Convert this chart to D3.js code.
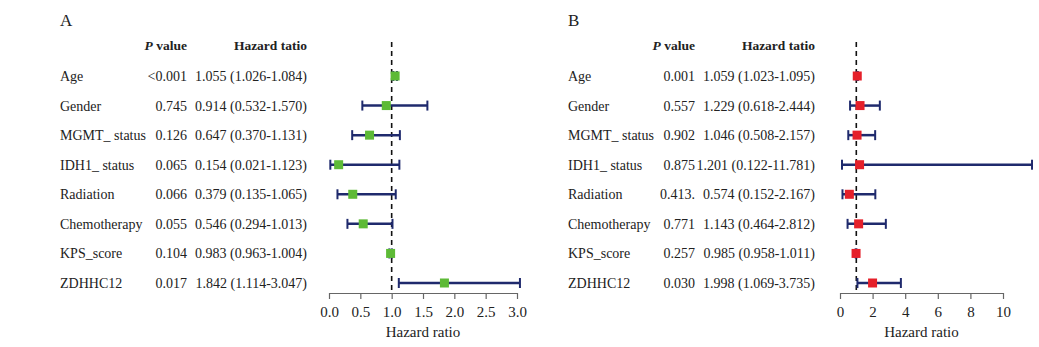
<!DOCTYPE html>
<html>
<head>
<meta charset="utf-8">
<script src="https://cdn.jsdelivr.net/npm/d3@7"></script>
<style>
body{margin:0;background:#fff;}
text{font-family:"Liberation Serif","Times New Roman",serif;fill:#222;}
</style>
</head>
<body>
<div id="grafico"></div>
<script>
// variables (mismas en los dos paneles)
var variables=["Age","Gender","MGMT_ status","IDH1_ status","Radiation","Chemotherapy","KPS_score","ZDHHC12"]

// panel A
var pA=["<0.001","0.745","0.126","0.065","0.066","0.055","0.104","0.017"]
var hrA=[1.055,0.914,0.647,0.154,0.379,0.546,0.983,1.842]
var loA=[1.026,0.532,0.370,0.021,0.135,0.294,0.963,1.114]
var hiA=[1.084,1.570,1.131,1.123,1.065,1.013,1.004,3.047]
var ticksA=[0,0.5,1,1.5,2,2.5,3]

// panel B
var pB=["0.001","0.557","0.902","0.875","0.413.","0.771","0.257","0.030"]
var hrB=[1.059,1.229,1.046,1.201,0.574,1.143,0.985,1.998]
var loB=[1.023,0.618,0.508,0.122,0.152,0.464,0.958,1.069]
var hiB=[1.095,2.444,2.157,11.781,2.167,2.812,1.011,3.735]
var ticksB=[0,2,4,6,8,10]

var svg=d3.select("#grafico").append("svg")
	.attr("width",1039).attr("height",347)

var y=d3.scaleLinear().domain([0,7]).range([76,283])

function panel(cfg){
	var g=svg.append("g")
	g.append("text").attr("x",cfg.x0).attr("y",26).text(cfg.letra)
		.style("font-size","17px")

	// cabeceras
	var head=g.append("text").attr("x",cfg.xP).attr("y",50).attr("text-anchor","end")
		.style("font-size","13.5px").style("font-weight","bold")
	head.append("tspan").style("font-style","italic").text("P")
	head.append("tspan").text(" value")
	g.append("text").attr("x",cfg.xHR).attr("y",50).attr("text-anchor","end")
		.style("font-size","13.5px").style("font-weight","bold").text("Hazard tatio")

	var rows=variables.map(function(v,i){
		return {v:v,p:cfg.p[i],hr:cfg.hr[i],lo:cfg.lo[i],hi:cfg.hi[i],i:i}
	})

	g.selectAll("t.lab").data(rows).enter().append("text")
		.attr("x",cfg.x0).attr("y",d=>y(d.i)+5)
		.style("font-size","14px").text(d=>d.v)
	g.selectAll("t.p").data(rows).enter().append("text")
		.attr("x",cfg.xP).attr("y",d=>y(d.i)+5).attr("text-anchor","end")
		.style("font-size","14px").text(d=>d.p)
	g.selectAll("t.hr").data(rows).enter().append("text")
		.attr("x",cfg.xHR).attr("y",d=>y(d.i)+5).attr("text-anchor","end")
		.style("font-size","14px")
		.text(d=>d.hr.toFixed(3)+" ("+d.lo.toFixed(3)+"-"+d.hi.toFixed(3)+")")

	var x=d3.scaleLinear().domain(cfg.dom).range(cfg.rango)

	// eje
	var eje=g.append("g").attr("transform","translate(0,293)")
		.call(d3.axisBottom(x).tickValues(cfg.ticks).tickSize(6).tickSizeOuter(0).tickFormat(cfg.fmt))
	eje.select(".domain").attr("stroke","#666").attr("stroke-width",1.2)
	eje.selectAll(".tick line").attr("stroke","#666").attr("stroke-width",1.2)
	eje.selectAll(".tick text").attr("dy","1.0em")
		.style("font-size","15px").style("font-family","'Liberation Serif',serif").attr("fill","#222")
	g.append("text").attr("x",(x(cfg.ticks[0])+x(cfg.ticks[cfg.ticks.length-1]))/2).attr("y",337)
		.attr("text-anchor","middle").style("font-size","15px").text("Hazard ratio")

	// linea de referencia
	g.append("line").attr("x1",x(1)).attr("x2",x(1)).attr("y1",42).attr("y2",293)
		.attr("stroke","#111").attr("stroke-width",1.6).attr("stroke-dasharray","5,4")

	var azul="#1f2a6d"
	g.selectAll("l.ci").data(rows).enter().append("line")
		.attr("x1",d=>x(d.lo)).attr("x2",d=>x(d.hi)).attr("y1",d=>y(d.i)).attr("y2",d=>y(d.i))
		.attr("stroke",azul).attr("stroke-width",2.5)
	g.selectAll("l.c0").data(rows).enter().append("line")
		.attr("x1",d=>x(d.lo)).attr("x2",d=>x(d.lo)).attr("y1",d=>y(d.i)-5).attr("y2",d=>y(d.i)+5)
		.attr("stroke",azul).attr("stroke-width",2)
	g.selectAll("l.c1").data(rows).enter().append("line")
		.attr("x1",d=>x(d.hi)).attr("x2",d=>x(d.hi)).attr("y1",d=>y(d.i)-5).attr("y2",d=>y(d.i)+5)
		.attr("stroke",azul).attr("stroke-width",2)
	g.selectAll("r.hr").data(rows).enter().append("rect")
		.attr("x",d=>x(d.hr)-4.5).attr("y",d=>y(d.i)-4.5)
		.attr("width",9).attr("height",9).attr("fill",cfg.color)
}

panel({letra:"A",x0:60,xP:187,xHR:307,p:pA,hr:hrA,lo:loA,hi:hiA,
	dom:[0,3],rango:[329,517],ticks:ticksA,fmt:d3.format(".1f"),color:"#5dba36"})
panel({letra:"B",x0:568,xP:695,xHR:815,p:pB,hr:hrB,lo:loB,hi:hiB,
	dom:[0,10],rango:[840,1003],ticks:ticksB,fmt:d3.format("d"),color:"#e5202a"})
</script>
</body>
</html>
